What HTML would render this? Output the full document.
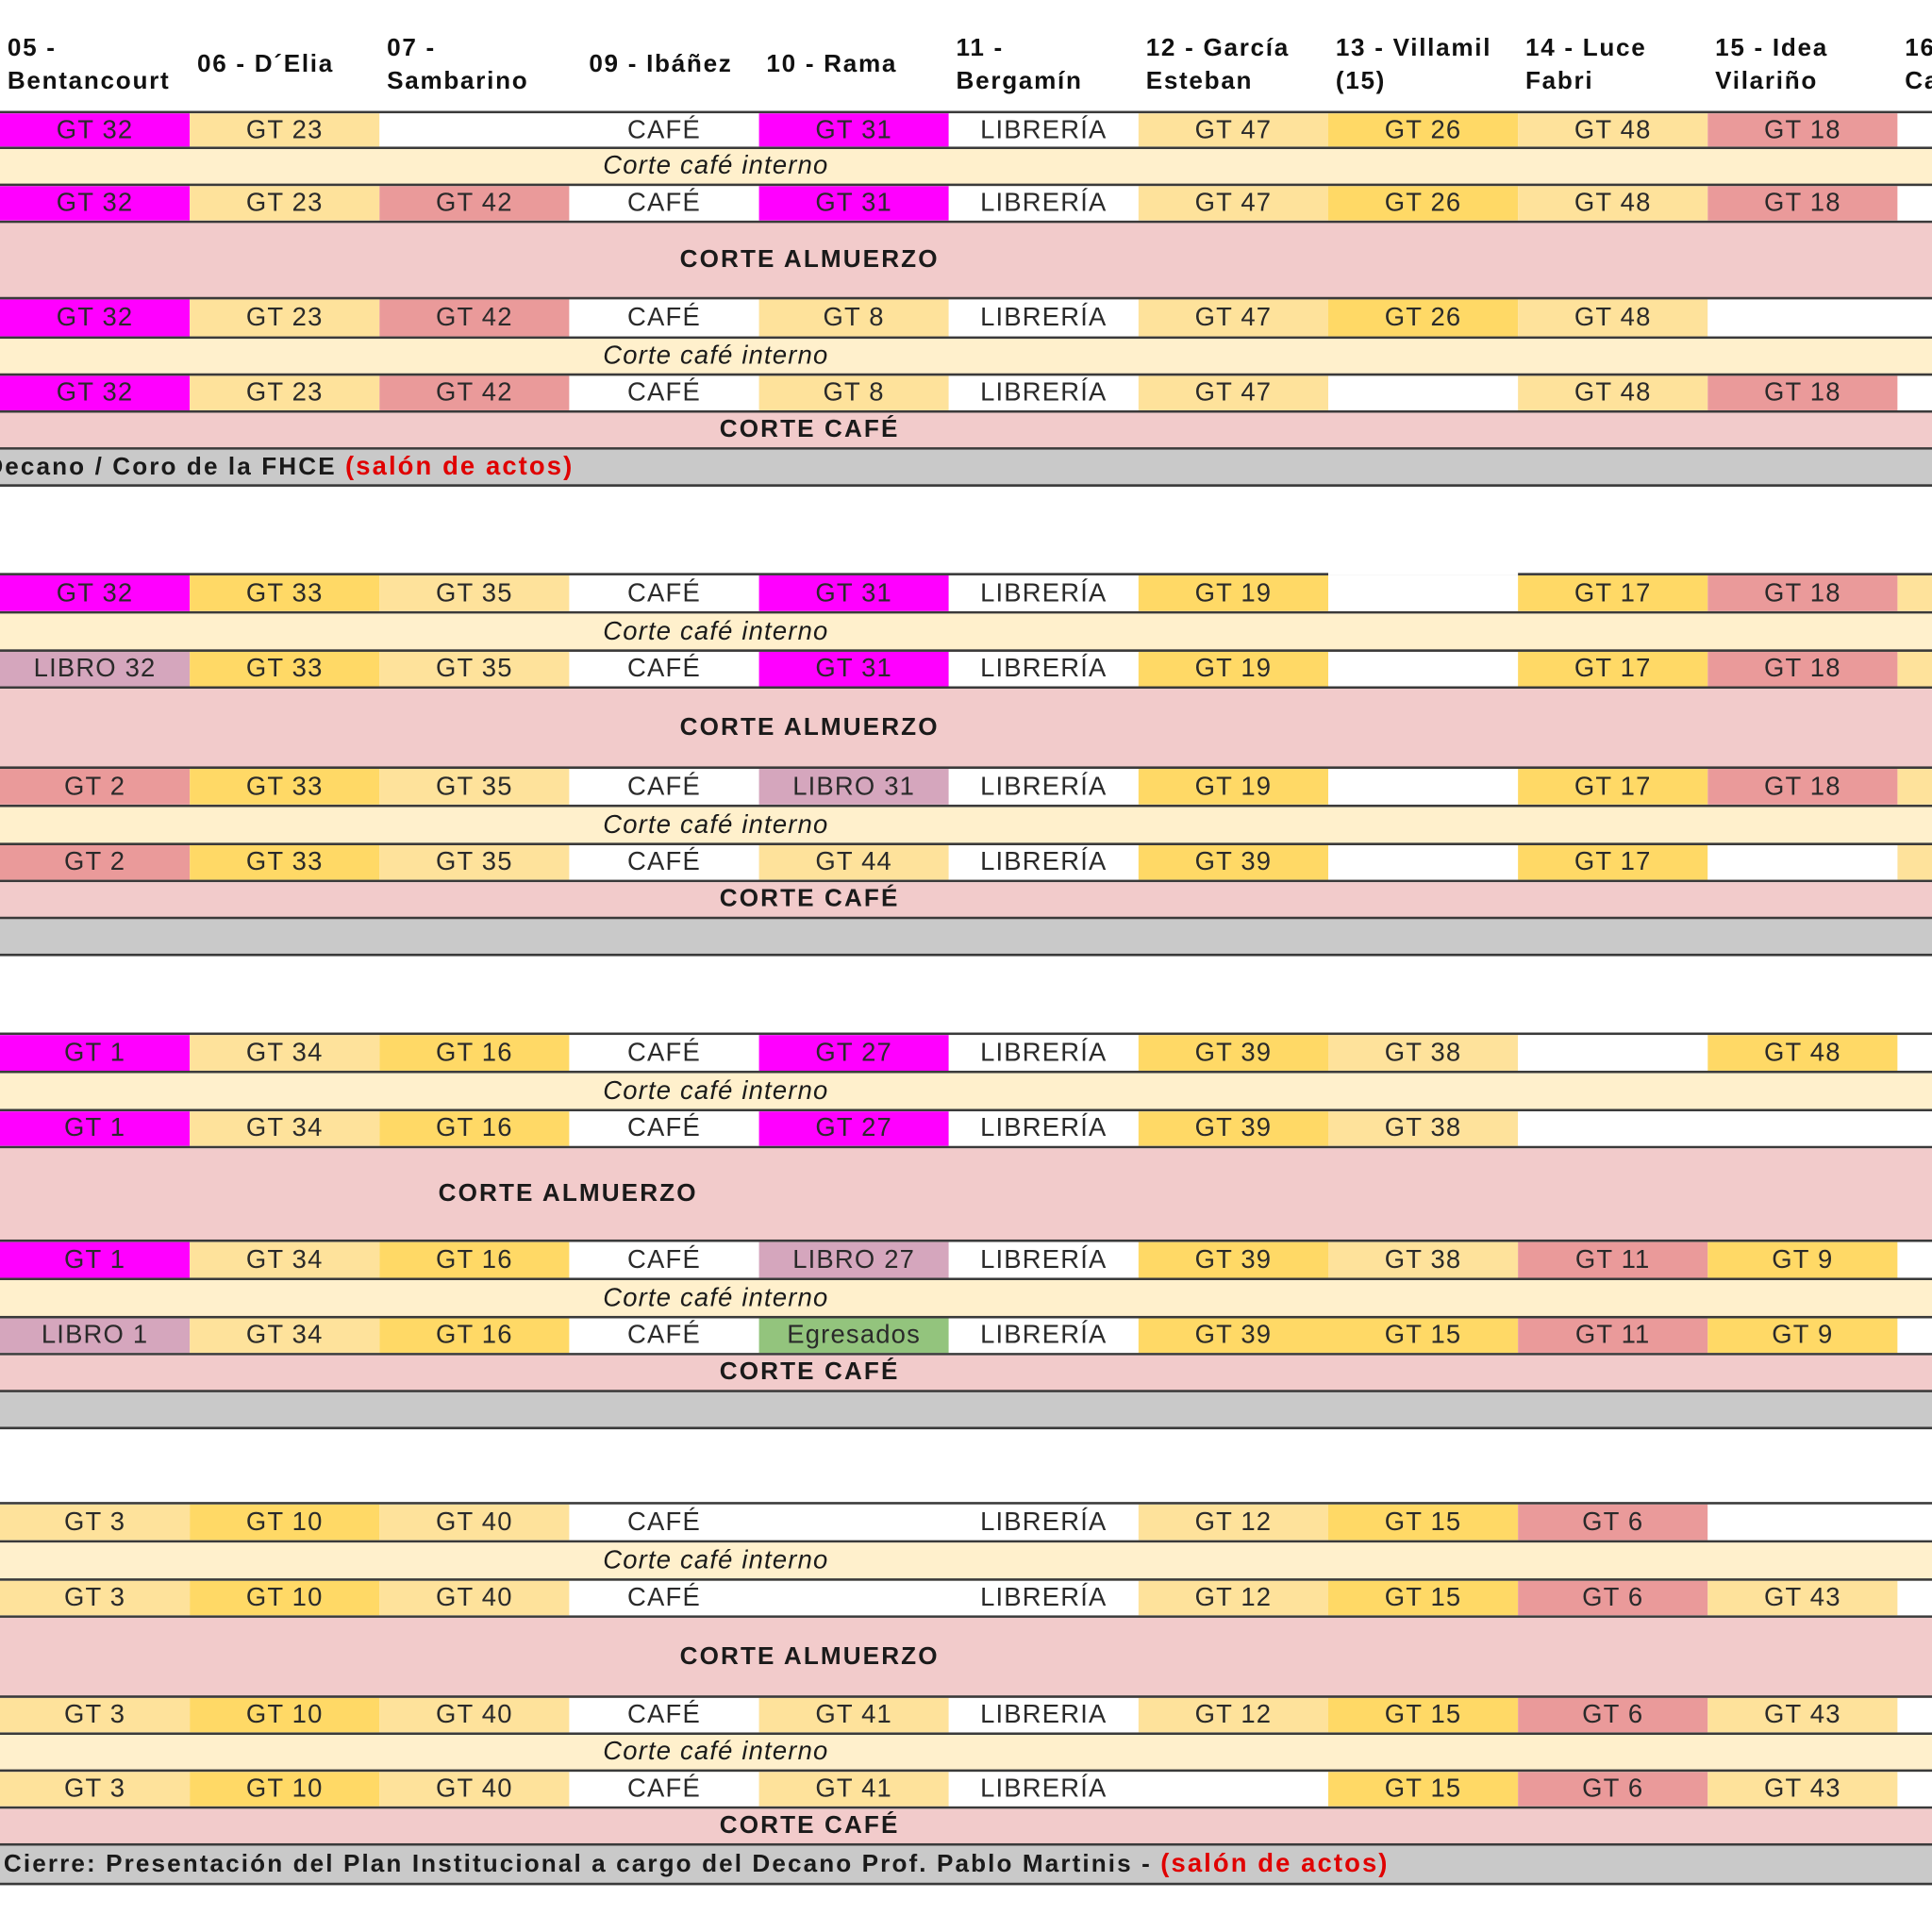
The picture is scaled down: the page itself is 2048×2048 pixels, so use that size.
<!DOCTYPE html>
<html><head><meta charset="utf-8"><style>
html,body{margin:0;padding:0;background:#fff;width:2048px;height:2048px;overflow:hidden}
#c{position:absolute;left:0;top:0;width:1568px;height:1568px;transform:scale(1.30612);transform-origin:0 0;overflow:hidden;font-family:"Liberation Sans",Arial,sans-serif}
.h{position:absolute;top:26px;font-weight:bold;font-size:20px;line-height:27px;color:#111;letter-spacing:1.3px;white-space:nowrap}
.r{position:absolute;left:0;width:1568px;box-sizing:border-box;border-bottom:2px solid #3a3a3a;display:flex;overflow:hidden}
.r i{font-style:normal;flex:0 0 154px;text-align:center;font-size:21px;letter-spacing:0.9px;color:#2a2a2a;display:flex;align-items:center;justify-content:center;white-space:nowrap;overflow:hidden}
.t{border-top:2px solid #3a3a3a}
.M{background:#ff00ff}.L{background:#fee29b}.Y{background:#ffd966}.R{background:#ea9a9a}.W{background:#fff}.P{background:#d5a6bd}.G{background:#93c47d}
.b{position:absolute;left:0;width:1568px;box-sizing:border-box;border-bottom:2px solid #3a3a3a}
.ci{background:#fff0cc}.ca{background:#f2cbcb}.gr{background:#c9c9c9}
.b span{position:absolute;transform:translate(-50%,-50%);top:50%;white-space:nowrap;font-size:21px;color:#1a1a1a;letter-spacing:0.9px}
.b span.bb{letter-spacing:1.6px;font-size:20px}
.bb{font-weight:bold}
.it{font-style:italic}
.b span.red{color:#e00000;position:static;transform:none;letter-spacing:1.6px}
</style></head><body><div id="c">
<div class="h" style="left:6px">05 -<br>Bentancourt</div>
<div class="h" style="left:160px;top:39px">06 - D´Elia</div>
<div class="h" style="left:314px">07 -<br>Sambarino</div>
<div class="h" style="left:478px;top:39px">09 - Ibáñez</div>
<div class="h" style="left:622px;top:39px">10 - Rama</div>
<div class="h" style="left:776px">11 -<br>Bergamín</div>
<div class="h" style="left:930px">12 - García<br>Esteban</div>
<div class="h" style="left:1084px">13 - Villamil<br>(15)</div>
<div class="h" style="left:1238px">14 - Luce<br>Fabri</div>
<div class="h" style="left:1392px">15 - Idea<br>Vilariño</div>
<div class="h" style="left:1546px">16 -<br>Ca</div>

<!-- Section 1 -->
<div class="r t" style="top:90px;height:31px"><i class="M">GT 32</i><i class="L">GT 23</i><i class="W"></i><i class="W">CAFÉ</i><i class="M">GT 31</i><i class="W">LIBRERÍA</i><i class="L">GT 47</i><i class="Y">GT 26</i><i class="L">GT 48</i><i class="R">GT 18</i><i class="W"></i></div>
<div class="b ci" style="top:121px;height:30px"><span class="it" style="left:581px">Corte café interno</span></div>
<div class="r" style="top:151px;height:30px"><i class="M">GT 32</i><i class="L">GT 23</i><i class="R">GT 42</i><i class="W">CAFÉ</i><i class="M">GT 31</i><i class="W">LIBRERÍA</i><i class="L">GT 47</i><i class="Y">GT 26</i><i class="L">GT 48</i><i class="R">GT 18</i><i class="W"></i></div>
<div class="b ca" style="top:181px;height:62px"><span class="bb" style="left:657px">CORTE ALMUERZO</span></div>
<div class="r" style="top:243px;height:32px"><i class="M">GT 32</i><i class="L">GT 23</i><i class="R">GT 42</i><i class="W">CAFÉ</i><i class="L">GT 8</i><i class="W">LIBRERÍA</i><i class="L">GT 47</i><i class="Y">GT 26</i><i class="L">GT 48</i><i class="W"></i><i class="W"></i></div>
<div class="b ci" style="top:275px;height:30px"><span class="it" style="left:581px">Corte café interno</span></div>
<div class="r" style="top:305px;height:30px"><i class="M">GT 32</i><i class="L">GT 23</i><i class="R">GT 42</i><i class="W">CAFÉ</i><i class="L">GT 8</i><i class="W">LIBRERÍA</i><i class="L">GT 47</i><i class="W"></i><i class="L">GT 48</i><i class="R">GT 18</i><i class="W"></i></div>
<div class="b ca" style="top:335px;height:30px"><span class="bb" style="left:657px">CORTE CAFÉ</span></div>
<div class="b gr" style="top:365px;height:30px"><span class="bb" style="left:-12px;transform:translate(0,-50%)">Decano / Coro de la FHCE <span class="red">(salón de actos)</span></span></div>

<!-- Section 2 -->
<div class="r t" style="top:465px;height:33px"><i class="M">GT 32</i><i class="Y">GT 33</i><i class="L">GT 35</i><i class="W">CAFÉ</i><i class="M">GT 31</i><i class="W">LIBRERÍA</i><i class="Y">GT 19</i><i class="W"></i><i class="Y">GT 17</i><i class="R">GT 18</i><i class="L"></i></div>
<div style="position:absolute;left:1078px;top:463px;width:154px;height:4px;background:#fff"></div>
<div class="b ci" style="top:498px;height:31px"><span class="it" style="left:581px">Corte café interno</span></div>
<div class="r" style="top:529px;height:30px"><i class="P">LIBRO 32</i><i class="Y">GT 33</i><i class="L">GT 35</i><i class="W">CAFÉ</i><i class="M">GT 31</i><i class="W">LIBRERÍA</i><i class="Y">GT 19</i><i class="W"></i><i class="Y">GT 17</i><i class="R">GT 18</i><i class="L"></i></div>
<div class="b ca" style="top:559px;height:65px"><span class="bb" style="left:657px">CORTE ALMUERZO</span></div>
<div class="r" style="top:624px;height:31px"><i class="R">GT 2</i><i class="Y">GT 33</i><i class="L">GT 35</i><i class="W">CAFÉ</i><i class="P">LIBRO 31</i><i class="W">LIBRERÍA</i><i class="Y">GT 19</i><i class="W"></i><i class="Y">GT 17</i><i class="R">GT 18</i><i class="L"></i></div>
<div class="b ci" style="top:655px;height:31px"><span class="it" style="left:581px">Corte café interno</span></div>
<div class="r" style="top:686px;height:30px"><i class="R">GT 2</i><i class="Y">GT 33</i><i class="L">GT 35</i><i class="W">CAFÉ</i><i class="L">GT 44</i><i class="W">LIBRERÍA</i><i class="Y">GT 39</i><i class="W"></i><i class="Y">GT 17</i><i class="W"></i><i class="L"></i></div>
<div class="b ca" style="top:716px;height:30px"><span class="bb" style="left:657px">CORTE CAFÉ</span></div>
<div class="b gr" style="top:746px;height:30px"></div>

<!-- Section 3 -->
<div class="r t" style="top:838px;height:33px"><i class="M">GT 1</i><i class="L">GT 34</i><i class="Y">GT 16</i><i class="W">CAFÉ</i><i class="M">GT 27</i><i class="W">LIBRERÍA</i><i class="Y">GT 39</i><i class="L">GT 38</i><i class="W"></i><i class="Y">GT 48</i><i class="W"></i></div>
<div class="b ci" style="top:871px;height:31px"><span class="it" style="left:581px">Corte café interno</span></div>
<div class="r" style="top:902px;height:30px"><i class="M">GT 1</i><i class="L">GT 34</i><i class="Y">GT 16</i><i class="W">CAFÉ</i><i class="M">GT 27</i><i class="W">LIBRERÍA</i><i class="Y">GT 39</i><i class="L">GT 38</i><i class="W"></i><i class="W"></i><i class="W"></i></div>
<div class="b ca" style="top:932px;height:76px"><span class="bb" style="left:461px">CORTE ALMUERZO</span></div>
<div class="r" style="top:1008px;height:31px"><i class="M">GT 1</i><i class="L">GT 34</i><i class="Y">GT 16</i><i class="W">CAFÉ</i><i class="P">LIBRO 27</i><i class="W">LIBRERÍA</i><i class="Y">GT 39</i><i class="L">GT 38</i><i class="R">GT 11</i><i class="Y">GT 9</i><i class="W"></i></div>
<div class="b ci" style="top:1039px;height:31px"><span class="it" style="left:581px">Corte café interno</span></div>
<div class="r" style="top:1070px;height:30px"><i class="P">LIBRO 1</i><i class="L">GT 34</i><i class="Y">GT 16</i><i class="W">CAFÉ</i><i class="G">Egresados</i><i class="W">LIBRERÍA</i><i class="Y">GT 39</i><i class="Y">GT 15</i><i class="R">GT 11</i><i class="Y">GT 9</i><i class="W"></i></div>
<div class="b ca" style="top:1100px;height:30px"><span class="bb" style="left:657px">CORTE CAFÉ</span></div>
<div class="b gr" style="top:1130px;height:30px"></div>

<!-- Section 4 -->
<div class="r t" style="top:1219px;height:33px"><i class="L">GT 3</i><i class="Y">GT 10</i><i class="L">GT 40</i><i class="W">CAFÉ</i><i class="W"></i><i class="W">LIBRERÍA</i><i class="L">GT 12</i><i class="Y">GT 15</i><i class="R">GT 6</i><i class="W"></i><i class="W"></i></div>
<div class="b ci" style="top:1252px;height:31px"><span class="it" style="left:581px">Corte café interno</span></div>
<div class="r" style="top:1283px;height:30px"><i class="L">GT 3</i><i class="Y">GT 10</i><i class="L">GT 40</i><i class="W">CAFÉ</i><i class="W"></i><i class="W">LIBRERÍA</i><i class="L">GT 12</i><i class="Y">GT 15</i><i class="R">GT 6</i><i class="L">GT 43</i><i class="W"></i></div>
<div class="b ca" style="top:1313px;height:65px"><span class="bb" style="left:657px">CORTE ALMUERZO</span></div>
<div class="r" style="top:1378px;height:30px"><i class="L">GT 3</i><i class="Y">GT 10</i><i class="L">GT 40</i><i class="W">CAFÉ</i><i class="L">GT 41</i><i class="W">LIBRERIA</i><i class="L">GT 12</i><i class="Y">GT 15</i><i class="R">GT 6</i><i class="L">GT 43</i><i class="W"></i></div>
<div class="b ci" style="top:1408px;height:30px"><span class="it" style="left:581px">Corte café interno</span></div>
<div class="r" style="top:1438px;height:30px"><i class="L">GT 3</i><i class="Y">GT 10</i><i class="L">GT 40</i><i class="W">CAFÉ</i><i class="L">GT 41</i><i class="W">LIBRERÍA</i><i class="W"></i><i class="Y">GT 15</i><i class="R">GT 6</i><i class="L">GT 43</i><i class="W"></i></div>
<div class="b ca" style="top:1468px;height:30px"><span class="bb" style="left:657px">CORTE CAFÉ</span></div>
<div class="b gr" style="top:1498px;height:32px"><span class="bb" style="left:3px;transform:translate(0,-50%)">Cierre: Presentación del Plan Institucional a cargo del Decano Prof. Pablo Martinis - <span class="red">(salón de actos)</span></span></div>
</div></body></html>
